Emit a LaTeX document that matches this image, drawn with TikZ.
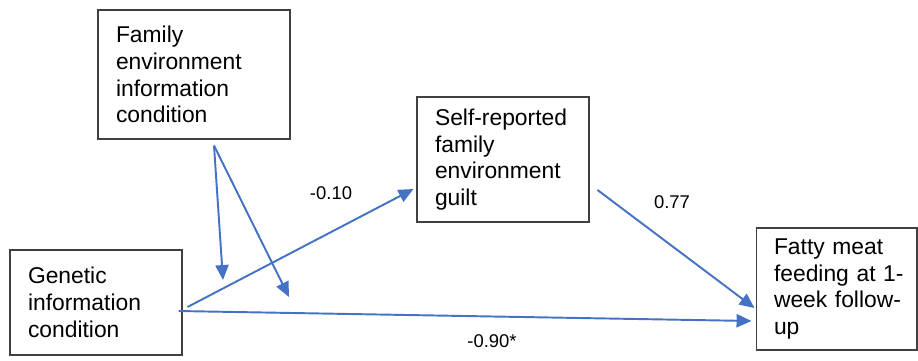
\documentclass[tikz,border=0pt]{standalone}
\usepackage{fontspec}
\setmainfont{Liberation Sans}
\usetikzlibrary{arrows.meta}
\definecolor{pathblue}{HTML}{4472C4}
\begin{document}
\begin{tikzpicture}[x=0.02cm, y=-0.02cm,
  box/.style={rectangle, draw=black!75, line width=0.6pt, align=left, inner xsep=0.36cm,
    font=\fontsize{13}{15.2}\selectfont},
  coef/.style={inner sep=0pt, font=\fontsize{10.5}{12}\selectfont},
  effect/.style={-{Triangle[length=8.5pt,width=7.5pt]}, draw=pathblue, line width=1.1pt}]

\useasboundingbox (0,0) rectangle (918,360);

\node[box, minimum width=3.84cm, minimum height=2.58cm, text width=3.12cm] (fam) at (194,74.5)
  {Family\\environment\\information\\condition};
\node[box, minimum width=3.44cm, minimum height=2.5cm, text width=2.72cm] (guilt) at (503,159.5)
  {Self-reported\\family\\environment\\guilt};
\node[box, minimum width=3.44cm, minimum height=2.1cm, text width=2.72cm] (gen) at (96,302.5)
  {Genetic\\information\\condition};
\node[box, minimum width=3.22cm, minimum height=2.44cm, text width=2.5cm] (fatty) at (836.5,289)
  {\mbox{Fatty meat}\\\mbox{feeding at 1-}\\\mbox{week follow-}\\up};

\coordinate (modA) at (223,280);
\coordinate (modB) at (289,297);

\draw[effect] ([shift={(20,6)}]fam.south) -- (modA);
\draw[effect] ([shift={(20,6)}]fam.south) -- (modB);
\draw[effect] ([shift={(5,4.5)}]gen.east) -- ([shift={(-3,29.5)}]guilt.west);
\draw[effect] ([shift={(8,30.5)}]guilt.east) -- ([shift={(-1,19)}]fatty.west);
\draw[effect] ([shift={(-4,8.5)}]gen.east) -- ([shift={(-4,32)}]fatty.west);

\node[coef] (a) at (331,193) {-0.10};
\node[coef] (b) at (672,202) {0.77};
\node[coef] (c) at (492,341) {-0.90*};
\end{tikzpicture}
\end{document}
